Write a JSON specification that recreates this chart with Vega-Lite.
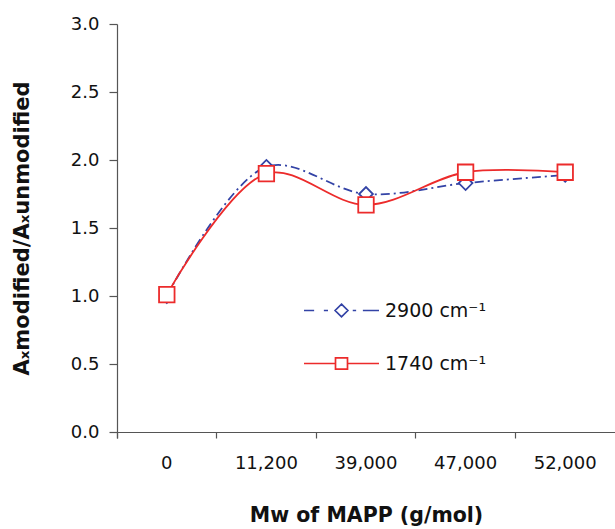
{
  "$schema": "https://vega.github.io/schema/vega-lite/v6.json",
  "autosize": {"type": "none"},
  "padding": {"left": 117, "top": 24, "right": 0, "bottom": 97},
  "width": 498,
  "height": 408,
  "background": "white",
  "config": {
    "view": {"stroke": null},
    "font": "DejaVu Sans",
    "axis": {"domainColor": "#555555", "tickColor": "#555555", "labelColor": "#111111", "titleColor": "#111111", "grid": false, "domainWidth": 1.2, "tickWidth": 1.2},
    "legend": {"symbolOpacity": 1, "labelFontSize": 19, "labelFont": "DejaVu Sans", "labelColor": "#111111", "labelOffset": 5, "rowPadding": 4, "padding": 0, "symbolSize": 5625, "symbolStrokeWidth": 1.7}
  },
  "data": {
    "values": [
      {"mw": "0", "series": "2900 cm⁻¹", "ratio": 1.0},
      {"mw": "11,200", "series": "2900 cm⁻¹", "ratio": 1.95},
      {"mw": "39,000", "series": "2900 cm⁻¹", "ratio": 1.75},
      {"mw": "47,000", "series": "2900 cm⁻¹", "ratio": 1.83},
      {"mw": "52,000", "series": "2900 cm⁻¹", "ratio": 1.89},
      {"mw": "0", "series": "1740 cm⁻¹", "ratio": 1.01},
      {"mw": "11,200", "series": "1740 cm⁻¹", "ratio": 1.9},
      {"mw": "39,000", "series": "1740 cm⁻¹", "ratio": 1.67},
      {"mw": "47,000", "series": "1740 cm⁻¹", "ratio": 1.91},
      {"mw": "52,000", "series": "1740 cm⁻¹", "ratio": 1.91}
    ]
  },
  "encoding": {
    "x": {
      "field": "mw", "type": "ordinal",
      "sort": ["0", "11,200", "39,000", "47,000", "52,000"],
      "scale": {"type": "band", "paddingInner": 0, "paddingOuter": 0},
      "axis": {"title": "Mw of MAPP (g/mol)", "labelAngle": 0, "bandPosition": 0, "tickExtra": true, "tickSize": 6,
               "labelFont": "DejaVu Sans", "labelFontSize": 18, "labelPadding": 16,
               "titleFont": "DejaVu Sans", "titleFontSize": 20.5, "titleFontWeight": "bold", "titlePadding": 33}
    },
    "y": {
      "field": "ratio", "type": "quantitative",
      "scale": {"domain": [0, 3]},
      "axis": {"title": "Aₓmodified/Aₓunmodified", "values": [0, 0.5, 1, 1.5, 2, 2.5, 3], "format": ".1f", "tickSize": 8,
               "labelFont": "DejaVu Sans", "labelFontSize": 18, "labelPadding": 10,
               "titleFont": "DejaVu Sans", "titleFontSize": 21, "titleFontWeight": "bold", "titlePadding": 38}
    },
    "color": {
      "field": "series", "type": "nominal",
      "scale": {"domain": ["2900 cm⁻¹", "1740 cm⁻¹"], "range": ["#3343a6", "#ec2b2b"]},
      "legend": {"title": null, "orient": "none", "legendX": 186, "legendY": 248}
    }
  },
  "layer": [
    {
      "mark": {"type": "point", "filled": false, "opacity": 0, "size": 5625, "strokeWidth": 1.7},
      "encoding": {
        "shape": {
          "field": "series", "type": "nominal",
          "scale": {"domain": ["2900 cm⁻¹", "1740 cm⁻¹"], "range": ["M-1,0H-0.73M-0.47,0H-0.36M0.3,0H0.39M0.57,0H1M0,-0.17L0.17,0L0,0.17L-0.17,0Z", "M-1,0H-0.16M0.16,0H1M-0.16,-0.15H0.16V0.15H-0.16Z"]},
          "legend": {"title": null, "orient": "none", "legendX": 186, "legendY": 248}
        }
      }
    },
    {
      "transform": [{"filter": "datum.series === '2900 cm⁻¹'"}],
      "mark": {"type": "line", "interpolate": "catmull-rom", "strokeWidth": 1.8, "strokeDash": [9, 4, 2, 4]}
    },
    {
      "transform": [{"filter": "datum.series === '2900 cm⁻¹'"}],
      "mark": {"type": "point", "shape": "diamond", "size": 190, "filled": false, "fill": "white", "fillOpacity": 1, "opacity": 1, "strokeWidth": 1.8}
    },
    {
      "transform": [{"filter": "datum.series === '1740 cm⁻¹'"}],
      "mark": {"type": "line", "interpolate": "catmull-rom", "strokeWidth": 1.8}
    },
    {
      "transform": [{"filter": "datum.series === '1740 cm⁻¹'"}],
      "mark": {"type": "point", "shape": "square", "size": 240, "filled": false, "fill": "white", "fillOpacity": 1, "opacity": 1, "strokeWidth": 1.8}
    }
  ]
}
